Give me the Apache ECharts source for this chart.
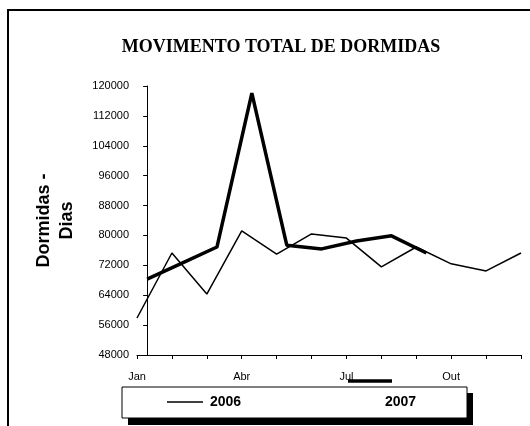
<!DOCTYPE html>
<html>
<head>
<meta charset="utf-8">
<script src="https://cdn.jsdelivr.net/npm/echarts@6/dist/echarts.min.js"></script>
<style>
  html, body { margin: 0; padding: 0; background: #fff; }
  #main { width: 530px; height: 426px; }
</style>
</head>
<body>
<div id="main"></div>
<script>
// months on the category axis
var months = ['Jan', 'Fev', 'Mar', 'Abr', 'Mai', 'Jun', 'Jul', 'Ago', 'Set', 'Out', 'Nov', 'Dez'];
// 2006 - full year
var v2006 = [57900, 75300, 64300, 81200, 75000, 80400, 79300, 71600, 76900, 72400, 70500, 75300];
// 2007 - Jan..Set
var v2007 = [68300, 72600, 76900, 118100, 77400, 76400, 78500, 79900, 75300];
var yTicks = { min: 48000, max: 120000, step: 8000 };

// 2007 line is drawn slightly shifted right in the original
var shift = 0.29;

var chart = echarts.init(document.getElementById('main'));
var sans = 'Liberation Sans, Arial, sans-serif';

chart.setOption({
  animation: false,
  backgroundColor: '#fff',
  title: {
    text: 'MOVIMENTO TOTAL DE DORMIDAS',
    left: 276,
    textAlign: 'center',
    top: 33,
    textStyle: { fontFamily: 'Liberation Serif, Times New Roman, serif', fontWeight: 'bold', fontSize: 18, color: '#000' }
  },
  grid: { left: 137, right: 9, top: 86, bottom: 71 },
  xAxis: [
    {
      type: 'category',
      data: months,
      boundaryGap: false,
      axisLine: { lineStyle: { color: '#000', width: 1 } },
      axisTick: { show: true, interval: 0, length: 4, lineStyle: { color: '#000' } },
      axisLabel: { interval: 2, margin: 16, color: '#000', fontFamily: sans, fontSize: 11 },
      splitLine: { show: false }
    },
    {
      type: 'value',
      min: -shift,
      max: months.length - 1 - shift,
      show: false
    }
  ],
  yAxis: {
    type: 'value',
    min: yTicks.min,
    max: yTicks.max,
    interval: yTicks.step,
    name: 'Dormidas -\nDias',
    nameLocation: 'middle',
    nameRotate: 90,
    nameGap: 58,
    nameTextStyle: { fontFamily: sans, fontWeight: 'bold', fontSize: 18, color: '#000', lineHeight: 23, align: 'center' },
    axisLine: { show: true, lineStyle: { color: '#000', width: 1 } },
    axisTick: { show: true, length: 4, lineStyle: { color: '#000' } },
    axisLabel: {
      margin: 8, color: '#000', fontFamily: sans, fontSize: 11,
      formatter: function (v) { return String(v); }
    },
    splitLine: { show: false }
  },
  series: [
    {
      name: '2006',
      type: 'line',
      data: v2006,
      symbol: 'none',
      lineStyle: { color: '#000', width: 1.5 }
    },
    {
      name: '2007',
      type: 'line',
      xAxisIndex: 1,
      data: v2007.map(function (v, i) { return [i, v]; }),
      symbol: 'none',
      lineStyle: { color: '#000', width: 3.5 }
    }
  ],
  graphic: [
    // outer frame (cut off on right and bottom)
    { type: 'rect', shape: { x: 8, y: 10, width: 560, height: 460 }, style: { fill: 'none', stroke: '#000', lineWidth: 2 }, silent: true },
    // legend box shadow + box
    { type: 'rect', shape: { x: 128, y: 393, width: 345, height: 32 }, style: { fill: '#000' }, silent: true },
    { type: 'rect', shape: { x: 122, y: 387, width: 345, height: 31 }, style: { fill: '#fff', stroke: '#000', lineWidth: 1 }, silent: true },
    { type: 'line', shape: { x1: 167, y1: 402, x2: 203, y2: 402 }, style: { stroke: '#000', lineWidth: 1.5 }, silent: true },
    { type: 'text', x: 210, y: 402, style: { text: '2006', fontFamily: sans, fontWeight: 'bold', fontSize: 14, fill: '#000', verticalAlign: 'middle' }, silent: true },
    { type: 'text', x: 385, y: 402, style: { text: '2007', fontFamily: sans, fontWeight: 'bold', fontSize: 14, fill: '#000', verticalAlign: 'middle' }, silent: true },
    // 2007 legend sample, displaced above the box
    { type: 'line', shape: { x1: 348, y1: 381, x2: 392, y2: 381 }, style: { stroke: '#000', lineWidth: 3.5 }, silent: true }
  ]
});
</script>
</body>
</html>
